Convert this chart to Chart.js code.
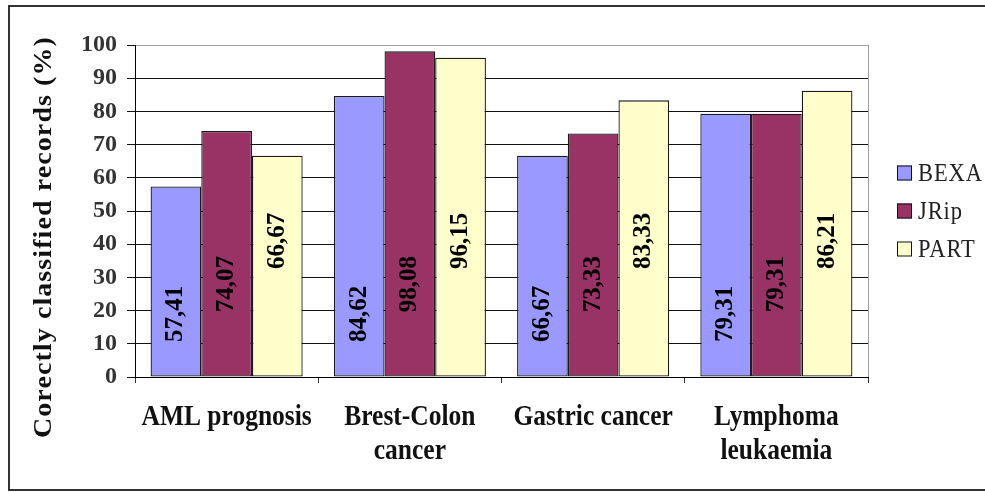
<!DOCTYPE html>
<html>
<head>
<meta charset="utf-8">
<script src="https://cdn.jsdelivr.net/npm/chart.js@4.4.1/dist/chart.umd.min.js"></script>
<style>
  html, body { margin: 0; padding: 0; background: #fff; }
  canvas { display: block; }
</style>
</head>
<body>
<canvas id="chart" width="985" height="492"></canvas>
<script>
// Categories (multi-line labels) and the three classifiers' accuracies (%)
const categories = [['AML prognosis'], ['Brest-Colon', 'cancer'], ['Gastric cancer'], ['Lymphoma', 'leukaemia']];
const seriesNames = ['BEXA', 'JRip', 'PART'];
const bexa = [57.41, 84.62, 66.67, 79.31];
const jrip = [74.07, 98.08, 73.33, 79.31];
const part = [66.67, 96.15, 83.33, 86.21];
const yTickValues = [0, 10, 20, 30, 40, 50, 60, 70, 80, 90, 100];
const yTitle = 'Corectly classified records (%)';

const seriesColors = ['#9999FF', '#993366', '#FFFFCC'];
// height (in axis units) at which each series' rotated value label is centred
const labelAnchor = [19, 28, 41];

const SERIF = '"Liberation Serif", "Times New Roman", serif';

function drawText(ctx, text, x, y, font, opts) {
  const o = Object.assign({ sx: 1, angle: 0, align: 'center', color: '#000', spacing: '0px', fitWidth: 0 }, opts || {});
  ctx.save();
  ctx.font = font;
  ctx.letterSpacing = o.spacing;
  let sx = o.sx;
  if (o.fitWidth) sx = o.fitWidth / ctx.measureText(text).width;
  ctx.translate(x, y);
  ctx.rotate(o.angle);
  ctx.scale(sx, 1);
  ctx.fillStyle = o.color;
  ctx.textAlign = o.align;
  ctx.textBaseline = 'middle';
  ctx.fillText(text, 0, 0);
  ctx.restore();
}

// outer frame around the whole figure
const framePlugin = {
  id: 'frame',
  afterDraw(chart) {
    const ctx = chart.ctx;
    ctx.save();
    ctx.strokeStyle = '#333';
    ctx.lineWidth = 2;
    ctx.beginPath();
    ctx.moveTo(985, 6);
    ctx.lineTo(9, 6);
    ctx.lineTo(9, 490);
    ctx.lineTo(985, 490);
    ctx.stroke();
    ctx.restore();
  }
};

// rotated value labels inside each bar
const valueLabelPlugin = {
  id: 'valueLabels',
  afterDatasetsDraw(chart) {
    const ctx = chart.ctx;
    const y = chart.scales.y;
    chart.data.datasets.forEach((ds, di) => {
      const meta = chart.getDatasetMeta(di);
      meta.data.forEach((bar, i) => {
        const v = ds.data[i];
        const txt = v.toFixed(2).replace('.', ',');
        drawText(ctx, txt, bar.x, y.getPixelForValue(labelAnchor[di]), 'bold 25px ' + SERIF,
          { angle: -Math.PI / 2 });
      });
    });
  }
};

// category labels, axis title and legend
const annotationsPlugin = {
  id: 'annotations',
  afterDraw(chart) {
    const ctx = chart.ctx;
    const area = chart.chartArea;
    const x = chart.scales.x;

    // category labels under the axis
    chart.data.labels.forEach((lines, i) => {
      const cx = x.getPixelForTick(i);
      lines.forEach((line, k) => {
        drawText(ctx, line, cx, area.bottom + 40 + k * 34, 'bold 30px ' + SERIF, { sx: 0.85, color: '#111' });
      });
    });

    // y axis title
    drawText(ctx, yTitle, 45, (area.top + area.bottom) / 2 + 26, 'bold 25px ' + SERIF,
      { angle: -Math.PI / 2, spacing: '1px', fitWidth: 402, color: '#111' });

    // legend
    const cy = (area.top + area.bottom) / 2;
    chart.data.datasets.forEach((ds, di) => {
      const ry = cy + (di - 1) * 38;
      const bx = area.right + 29;
      ctx.save();
      ctx.fillStyle = ds.backgroundColor;
      ctx.fillRect(bx, ry - 7.5, 15, 15);
      ctx.strokeStyle = '#111';
      ctx.lineWidth = 1;
      ctx.strokeRect(bx + 0.5, ry - 7, 14, 14);
      ctx.restore();
      drawText(ctx, ds.label, bx + 21, ry + 1, '25px ' + SERIF, { sx: 0.9, align: 'left', color: '#222', spacing: '1px' });
    });
  }
};

const datasets = [bexa, jrip, part].map((values, i) => ({
  label: seriesNames[i],
  data: values,
  backgroundColor: seriesColors[i],
  borderColor: '#1a1a1a',
  borderWidth: 1.3,
  borderSkipped: false,
  categoryPercentage: 0.83,
  barPercentage: 1.0
}));

new Chart(document.getElementById('chart'), {
  type: 'bar',
  data: { labels: categories, datasets },
  options: {
    responsive: false,
    animation: false,
    events: [],
    layout: { padding: { left: 0, right: 117, top: 45, bottom: 109 } },
    plugins: { legend: { display: false }, tooltip: { enabled: false } },
    scales: {
      x: {
        offset: true,
        ticks: { display: false },
        grid: {
          offset: true,
          drawOnChartArea: true,
          color: c => (c.type === 'tick' ? 'rgba(0,0,0,0)' : '#a0a0a0'),
          tickColor: '#333',
          tickLength: 6,
          lineWidth: 1
        },
        border: { display: true, color: '#000', width: 1 }
      },
      y: {
        min: 0,
        max: 100,
        afterBuildTicks: s => { s.ticks = yTickValues.map(v => ({ value: v })); },
        afterFit: s => { s.width = 135; },
        ticks: {
          padding: 10,
          color: '#333',
          font: { family: SERIF, size: 24, weight: 'bold' }
        },
        grid: {
          color: c => (c.tick && c.tick.value === 100 ? '#a0a0a0' : '#111'),
          tickColor: '#111',
          tickLength: 8,
          lineWidth: 1
        },
        border: { display: true, color: '#000', width: 1 }
      }
    }
  },
  plugins: [framePlugin, valueLabelPlugin, annotationsPlugin]
});
</script>
</body>
</html>
